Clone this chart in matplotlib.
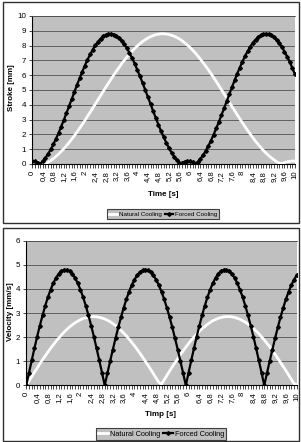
import numpy as np
import matplotlib
matplotlib.use("Agg")
import matplotlib.pyplot as plt
from matplotlib.patches import Rectangle

# ---------------- data ----------------
time_s = np.round(np.arange(0, 101) * 0.1, 1)   # category axis, 0 .. 10 s

tick_labels = ["0", "0,4", "0,8", "1,2", "1,6", "2", "2,4", "2,8", "3,2", "3,6",
               "4", "4,4", "4,8", "5,2", "5,6", "6", "6,4", "6,8", "7,2", "7,6",
               "8", "8,4", "8,8", "9,2", "9,6", "10"]

stroke_natural = [0.20, 0.19, 0.16, 0.12, 0.06, 0.02, 0.12, 0.23, 0.36, 0.51,
                  0.67, 0.85, 1.03, 1.24, 1.45, 1.68, 1.91, 2.16, 2.41, 2.67,
                  2.94, 3.22, 3.49, 3.78, 4.06, 4.34, 4.63, 4.91, 5.19, 5.47,
                  5.74, 6.01, 6.27, 6.52, 6.77, 7.00, 7.22, 7.43, 7.63, 7.81,
                  7.98, 8.14, 8.28, 8.40, 8.51, 8.60, 8.68, 8.74, 8.77, 8.80,
                  8.80, 8.78, 8.75, 8.70, 8.63, 8.55, 8.45, 8.33, 8.19, 8.04,
                  7.88, 7.70, 7.51, 7.30, 7.08, 6.85, 6.61, 6.37, 6.11, 5.85,
                  5.58, 5.30, 5.02, 4.74, 4.46, 4.17, 3.89, 3.61, 3.33, 3.05,
                  2.78, 2.51, 2.26, 2.01, 1.77, 1.53, 1.32, 1.11, 0.91, 0.73,
                  0.57, 0.42, 0.28, 0.16, 0.06, 0.03, 0.10, 0.15, 0.18, 0.20,
                  0.20]

stroke_forced = [0.20, 0.17, 0.10, 0.03, 0.20, 0.42, 0.68, 0.98, 1.32, 1.70,
                 2.10, 2.53, 2.98, 3.44, 3.91, 4.38, 4.86, 5.33, 5.79, 6.23,
                 6.65, 7.04, 7.40, 7.73, 8.02, 8.26, 8.47, 8.62, 8.73, 8.79,
                 8.80, 8.75, 8.66, 8.52, 8.33, 8.10, 7.82, 7.50, 7.15, 6.77,
                 6.35, 5.92, 5.47, 5.00, 4.53, 4.05, 3.58, 3.11, 2.66, 2.22,
                 1.82, 1.44, 1.08, 0.77, 0.49, 0.26, 0.07, 0.07, 0.16, 0.20,
                 0.19, 0.13, 0.02, 0.14, 0.35, 0.60, 0.89, 1.22, 1.58, 1.98,
                 2.40, 2.84, 3.30, 3.77, 4.24, 4.72, 5.19, 5.65, 6.10, 6.52,
                 6.92, 7.30, 7.63, 7.93, 8.20, 8.41, 8.58, 8.70, 8.78, 8.80,
                 8.77, 8.69, 8.57, 8.39, 8.17, 7.91, 7.60, 7.26, 6.89, 6.48,
                 6.05]

velocity_natural = [0.00, 0.18, 0.36, 0.54, 0.71, 0.89, 1.06, 1.22, 1.38, 1.54,
                    1.68, 1.83, 1.96, 2.09, 2.21, 2.32, 2.42, 2.51, 2.59, 2.66,
                    2.72, 2.77, 2.80, 2.83, 2.85, 2.85, 2.84, 2.82, 2.79, 2.75,
                    2.70, 2.64, 2.56, 2.48, 2.39, 2.28, 2.17, 2.05, 1.92, 1.78,
                    1.64, 1.49, 1.33, 1.17, 1.00, 0.83, 0.66, 0.48, 0.30, 0.12,
                    0.05, 0.23, 0.41, 0.59, 0.77, 0.94, 1.10, 1.27, 1.43, 1.58,
                    1.73, 1.87, 2.00, 2.12, 2.24, 2.35, 2.44, 2.53, 2.61, 2.68,
                    2.73, 2.78, 2.81, 2.84, 2.85, 2.85, 2.84, 2.82, 2.78, 2.74,
                    2.68, 2.62, 2.54, 2.45, 2.36, 2.25, 2.14, 2.01, 1.88, 1.74,
                    1.60, 1.44, 1.29, 1.12, 0.95, 0.78, 0.61, 0.43, 0.25, 0.07,
                    0.03]

velocity_forced = [0.00, 0.52, 1.03, 1.53, 2.02, 2.47, 2.90, 3.30, 3.66, 3.97,
                   4.24, 4.46, 4.63, 4.74, 4.79, 4.79, 4.74, 4.63, 4.46, 4.24,
                   3.97, 3.66, 3.30, 2.90, 2.47, 2.02, 1.53, 1.03, 0.52, 0.00,
                   0.50, 1.00, 1.48, 1.95, 2.40, 2.82, 3.21, 3.57, 3.88, 4.16,
                   4.38, 4.57, 4.69, 4.77, 4.80, 4.77, 4.69, 4.57, 4.38, 4.16,
                   3.88, 3.57, 3.21, 2.82, 2.40, 1.95, 1.48, 1.00, 0.50, 0.00,
                   0.52, 1.03, 1.53, 2.02, 2.47, 2.90, 3.30, 3.66, 3.97, 4.24,
                   4.46, 4.63, 4.74, 4.79, 4.79, 4.74, 4.63, 4.46, 4.24, 3.97,
                   3.66, 3.30, 2.90, 2.47, 2.02, 1.53, 1.03, 0.52, 0.00, 0.50,
                   1.00, 1.48, 1.95, 2.40, 2.82, 3.21, 3.57, 3.88, 4.16, 4.38,
                   4.57]

series_names = ["Natural Cooling", "Forced Cooling"]

# ---------------- style ----------------
NARROW = ["Liberation Sans Narrow", "Liberation Sans", "DejaVu Sans"]
SANS = ["Liberation Sans", "DejaVu Sans"]
PLOT_BG = "#c0c0c0"
GRID = "#505050"

W, H = 301, 442
fig = plt.figure(figsize=(W / 100, H / 100), dpi=100)
fig.patch.set_facecolor("white")


def fx(px):
    return px / W


def fy(py):
    return 1 - py / H


# panel frames
for (x0, y0, x1, y1) in [(3, 2, 299, 223), (3, 228, 299, 441)]:
    fig.patches.append(Rectangle((fx(x0), fy(y1)), fx(x1) - fx(x0), fy(y0) - fy(y1),
                                 transform=fig.transFigure, fill=False,
                                 edgecolor="#303030", linewidth=1.0))


def make_axes(left, top, right, bottom):
    return fig.add_axes([fx(left), fy(bottom), fx(right) - fx(left), fy(top) - fy(bottom)])


def style_axes(ax, ymax):
    ax.set_facecolor(PLOT_BG)
    ax.set_xlim(time_s[0], time_s[-1])
    ax.set_ylim(0, ymax)
    ax.set_yticks(np.arange(0, ymax + 1, 1))
    ax.yaxis.grid(True, color=GRID, linewidth=0.6)
    ax.set_axisbelow(True)
    ax.spines["right"].set_visible(False)
    ax.spines["top"].set_color(GRID)
    ax.spines["top"].set_linewidth(0.6)
    ax.spines["left"].set_color("black")
    ax.spines["bottom"].set_color("black")
    ax.spines["left"].set_linewidth(0.8)
    ax.spines["bottom"].set_linewidth(0.8)
    ax.set_xticks(time_s[::4])
    ax.set_xticklabels(tick_labels, rotation=90, fontsize=5.6, family=NARROW)
    ax.set_xticks(time_s, minor=True)
    ax.tick_params(axis="x", which="both", direction="out", length=2.8, width=0.5,
                   pad=2, color="black")
    ax.tick_params(axis="y", direction="out", length=2.5, width=0.5, pad=2,
                   labelsize=5.8, color="black")
    for lab in ax.get_yticklabels():
        lab.set_family(NARROW)


def draw_series(ax, natural, forced):
    ax.plot(time_s, natural, color="white", linewidth=2.0,
            label=series_names[0], zorder=3)
    ax.plot(time_s, forced, color="black", linewidth=1.6, marker="D",
            markersize=1.9, markerfacecolor="black", markeredgecolor="black",
            label=series_names[1], zorder=4)


def draw_legend(ax, cx, cy, size):
    leg = ax.legend(loc="center", bbox_to_anchor=(fx(cx), fy(cy)),
                    bbox_transform=fig.transFigure, ncol=2, frameon=True,
                    fancybox=False, prop={"family": NARROW, "size": size},
                    handlelength=1.3, handletextpad=0.3, columnspacing=0.4,
                    borderpad=0.3, borderaxespad=0)
    leg.get_frame().set_facecolor(PLOT_BG)
    leg.get_frame().set_edgecolor("#404040")
    leg.get_frame().set_linewidth(0.8)
    leg.get_frame().set_alpha(1)


# ---------------- top chart: stroke ----------------
ax1 = make_axes(32.3, 16, 295, 164)
style_axes(ax1, 10)
draw_series(ax1, stroke_natural, stroke_forced)
draw_legend(ax1, 163, 214, 4.5)
fig.text(fx(12), fy(88), "Stroke [mm]", rotation=90, ha="center", va="center",
         fontsize=5.8, fontweight="bold", family=SANS)
fig.text(fx(163), fy(194), "Time [s]", ha="center", va="center",
         fontsize=5.8, fontweight="bold", family=NARROW)

# ---------------- bottom chart: velocity ----------------
ax2 = make_axes(26.3, 240.7, 296.7, 385.3)
style_axes(ax2, 6)
draw_series(ax2, velocity_natural, velocity_forced)
draw_legend(ax2, 161, 434, 5.3)
fig.text(fx(11), fy(312), "Velocity [mm/s]", rotation=90, ha="center", va="center",
         fontsize=5.8, fontweight="bold", family=SANS)
fig.text(fx(161), fy(414), "Timp [s]", ha="center", va="center",
         fontsize=5.8, fontweight="bold", family=NARROW)

fig.savefig("out.png", dpi=100, facecolor="white")
